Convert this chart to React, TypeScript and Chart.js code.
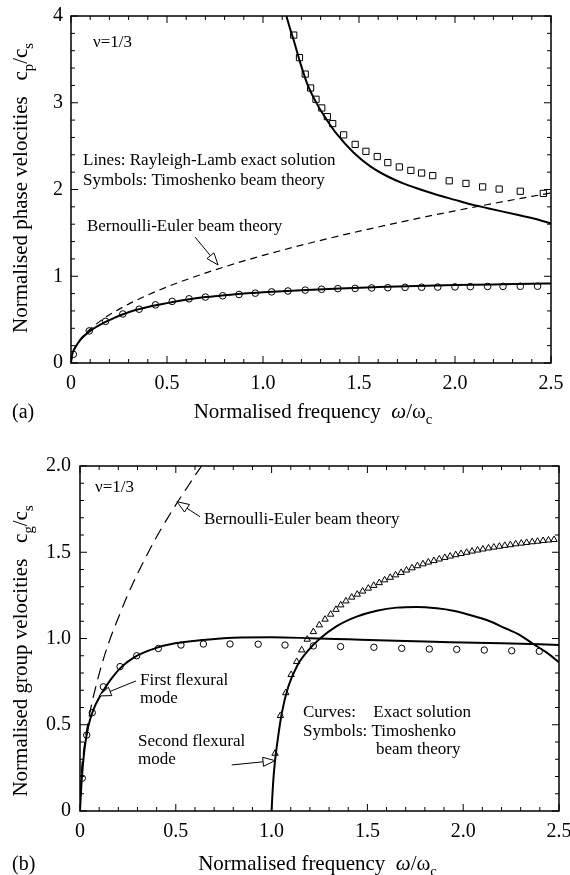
import React, { useEffect, useRef } from "react";
import { Chart, registerables } from "chart.js";

Chart.register(...registerables);

const SERIF = "'Liberation Serif', 'Times New Roman', Times, serif";

// ---------- (a) phase velocities ----------
const freqTickLabels = ["0", "0.5", "1.0", "1.5", "2.0", "2.5"];
const phaseTickLabels = ["0", "1", "2", "3", "4"];

// exact solution, first flexural mode
const phaseMode1X = [0, 0.005, 0.02, 0.05, 0.1, 0.2, 0.3, 0.4, 0.5, 0.6, 0.7, 0.8, 0.9, 1.0, 1.2, 1.4, 1.6, 1.8, 2.0, 2.2, 2.4, 2.5];
const phaseMode1Y = [0, 0.09, 0.17, 0.27, 0.37, 0.495, 0.585, 0.645, 0.69, 0.73, 0.76, 0.78, 0.8, 0.815, 0.84, 0.86, 0.875, 0.888, 0.898, 0.906, 0.913, 0.917];

// exact solution, second flexural mode
const phaseMode2X = [1.122, 1.14, 1.16, 1.19, 1.23, 1.28, 1.33, 1.384, 1.47, 1.557, 1.65, 1.73, 1.82, 1.905, 2.0, 2.08, 2.17, 2.25, 2.33, 2.41, 2.5];
const phaseMode2Y = [4.0, 3.86, 3.72, 3.49, 3.22, 2.99, 2.81, 2.64, 2.43, 2.27, 2.15, 2.07, 2.0, 1.94, 1.88, 1.83, 1.785, 1.745, 1.705, 1.665, 1.61];

// Bernoulli-Euler beam
const phaseEulerX = [0, 0.01, 0.03, 0.06, 0.1, 0.15, 0.2, 0.3, 0.4, 0.5, 0.6, 0.8, 1.0, 1.2, 1.4, 1.6, 1.8, 2.0, 2.2, 2.4, 2.5];
const phaseEulerY = [0, 0.124, 0.215, 0.304, 0.392, 0.48, 0.555, 0.679, 0.784, 0.877, 0.96, 1.109, 1.24, 1.358, 1.467, 1.568, 1.664, 1.754, 1.839, 1.921, 1.96];

// Timoshenko beam, first mode (circles)
const phaseTimo1X = [0.012, 0.095, 0.18, 0.27, 0.355, 0.44, 0.527, 0.615, 0.7, 0.79, 0.875, 0.96, 1.045, 1.13, 1.22, 1.305, 1.39, 1.48, 1.566, 1.65, 1.74, 1.826, 1.91, 2.0, 2.08, 2.17, 2.25, 2.34, 2.43];
const phaseTimo1Y = [0.1, 0.37, 0.48, 0.565, 0.62, 0.67, 0.71, 0.74, 0.76, 0.775, 0.79, 0.805, 0.82, 0.83, 0.84, 0.85, 0.857, 0.86, 0.865, 0.868, 0.872, 0.873, 0.875, 0.877, 0.88, 0.882, 0.883, 0.884, 0.885];

// Timoshenko beam, second mode (squares)
const phaseTimo2X = [1.16, 1.19, 1.22, 1.248, 1.276, 1.306, 1.335, 1.363, 1.42, 1.48, 1.536, 1.595, 1.65, 1.71, 1.77, 1.826, 1.884, 1.97, 2.057, 2.144, 2.23, 2.34, 2.46];
const phaseTimo2Y = [3.78, 3.52, 3.33, 3.17, 3.04, 2.94, 2.84, 2.76, 2.63, 2.52, 2.44, 2.38, 2.31, 2.26, 2.22, 2.19, 2.16, 2.1, 2.07, 2.03, 2.005, 1.98, 1.955];

// ---------- (b) group velocities ----------
const groupTickLabels = ["0", "0.5", "1.0", "1.5", "2.0"];

const groupMode1X = [0, 0.009, 0.023, 0.043, 0.069, 0.113, 0.165, 0.218, 0.287, 0.391, 0.496, 0.635, 0.8, 1.0, 1.2, 1.4, 1.6, 1.8, 2.0, 2.2, 2.4, 2.5];
const groupMode1Y = [0, 0.18, 0.354, 0.489, 0.585, 0.682, 0.769, 0.837, 0.894, 0.943, 0.972, 0.991, 1.005, 1.007, 1.002, 0.995, 0.988, 0.982, 0.977, 0.972, 0.966, 0.962];

const groupMode2X = [1.0, 1.004, 1.009, 1.017, 1.027, 1.053, 1.087, 1.135, 1.19, 1.253, 1.34, 1.444, 1.549, 1.653, 1.757, 1.862, 1.948, 2.035, 2.123, 2.209, 2.296, 2.366, 2.436, 2.5];
const groupMode2Y = [0, 0.09, 0.18, 0.28, 0.373, 0.566, 0.72, 0.845, 0.93, 1.0, 1.072, 1.127, 1.161, 1.179, 1.183, 1.175, 1.161, 1.136, 1.107, 1.065, 1.02, 0.968, 0.918, 0.862];

const groupEulerX = [0, 0.005, 0.02, 0.05, 0.1, 0.15, 0.2, 0.25, 0.3, 0.35, 0.4, 0.45, 0.5, 0.55, 0.6, 0.635];
const groupEulerY = [0, 0.178, 0.355, 0.56, 0.795, 0.975, 1.12, 1.255, 1.375, 1.485, 1.59, 1.685, 1.775, 1.86, 1.945, 2.0];

const groupTimo1X = [0.012, 0.035, 0.064, 0.122, 0.209, 0.296, 0.409, 0.527, 0.644, 0.783, 0.93, 1.07, 1.218, 1.36, 1.534, 1.679, 1.823, 1.966, 2.11, 2.253, 2.397];
const groupTimo1Y = [0.19, 0.44, 0.57, 0.72, 0.837, 0.9, 0.942, 0.962, 0.968, 0.968, 0.967, 0.962, 0.957, 0.953, 0.949, 0.943, 0.939, 0.937, 0.933, 0.929, 0.926];

const groupTimo2X = [1.018, 1.046, 1.074, 1.102, 1.131, 1.157, 1.186, 1.218, 1.249, 1.279, 1.308, 1.336, 1.361, 1.388, 1.418, 1.447, 1.475, 1.505, 1.533, 1.562, 1.59, 1.619, 1.647, 1.676, 1.704, 1.733, 1.761, 1.79, 1.818, 1.847, 1.875, 1.904, 1.932, 1.961, 1.989, 2.018, 2.046, 2.075, 2.103, 2.132, 2.16, 2.189, 2.217, 2.246, 2.274, 2.303, 2.331, 2.36, 2.388, 2.417, 2.445, 2.474];
const groupTimo2Y = [0.334, 0.553, 0.685, 0.79, 0.866, 0.933, 0.995, 1.039, 1.078, 1.111, 1.14, 1.168, 1.194, 1.217, 1.239, 1.256, 1.274, 1.291, 1.307, 1.323, 1.339, 1.354, 1.368, 1.382, 1.396, 1.409, 1.421, 1.432, 1.442, 1.451, 1.46, 1.469, 1.477, 1.485, 1.492, 1.499, 1.506, 1.512, 1.518, 1.524, 1.529, 1.534, 1.539, 1.543, 1.548, 1.552, 1.556, 1.56, 1.563, 1.567, 1.57, 1.573];

// ---------- helpers ----------
type Pt = { x: number; y: number };
const zip = (xs: number[], ys: number[]): Pt[] => xs.map((x, i) => ({ x, y: ys[i] }));

const curve = (data: Pt[], dash: number[] = [], width = 2) => ({
  data,
  showLine: true,
  borderColor: "#000",
  borderWidth: width,
  borderDash: dash,
  pointRadius: 0,
  pointHoverRadius: 0,
  cubicInterpolationMode: "monotone",
  fill: false,
});

const symbols = (data: Pt[], style: string, radius: number) => ({
  data,
  showLine: false,
  pointStyle: style,
  pointRadius: radius,
  pointHoverRadius: radius,
  pointBorderColor: "#000",
  pointBackgroundColor: "rgba(0,0,0,0)",
  pointBorderWidth: 1,
});

type Run = { t: string; sub?: boolean; it?: boolean };
type Note = { x: number; y: number; text: string };
type Arrow = { from: [number, number]; to: [number, number] };

interface Decor {
  xMinor: number;
  xCount: number;
  xEvery: number;
  yMinor: number;
  yCount: number;
  yEvery: number;
  notes: Note[];
  arrows: Arrow[];
  yTitle: Run[];
  yTitleX: number;
  yTitleMid: number;
  xTitle: Run[];
  xTitleMid: number;
  xTitleY: number;
  panel: string;
}

const TITLE_SIZE = 21;
const NOTE_SIZE = 17;

function runFont(r: Run, size: number) {
  const s = r.sub ? size * 0.7 : size;
  return `${r.it ? "italic " : ""}${s}px ${SERIF}`;
}

function drawRuns(ctx: CanvasRenderingContext2D, runs: Run[], cx: number, y: number, size: number) {
  let total = 0;
  const widths = runs.map((r) => {
    ctx.font = runFont(r, size);
    const w = ctx.measureText(r.t).width;
    total += w;
    return w;
  });
  let x = cx - total / 2;
  runs.forEach((r, i) => {
    ctx.font = runFont(r, size);
    ctx.fillText(r.t, x, y + (r.sub ? size * 0.28 : 0));
    x += widths[i];
  });
}

function drawArrow(ctx: CanvasRenderingContext2D, x0: number, y0: number, x1: number, y1: number) {
  const ang = Math.atan2(y1 - y0, x1 - x0);
  const L = 12;
  const W = 4.5;
  const bx = x1 - L * Math.cos(ang);
  const by = y1 - L * Math.sin(ang);
  ctx.beginPath();
  ctx.moveTo(x0, y0);
  ctx.lineTo(bx, by);
  ctx.stroke();
  ctx.beginPath();
  ctx.moveTo(x1, y1);
  ctx.lineTo(bx + W * Math.sin(ang), by - W * Math.cos(ang));
  ctx.lineTo(bx - W * Math.sin(ang), by + W * Math.cos(ang));
  ctx.closePath();
  ctx.fillStyle = "#fff";
  ctx.fill();
  ctx.stroke();
}

function decorPlugin(cfg: Decor) {
  return {
    id: "decor",
    afterDraw(chart: any) {
      const { ctx, chartArea: a } = chart;
      const xs = chart.scales.x;
      const ys = chart.scales.y;
      ctx.save();
      ctx.strokeStyle = "#000";
      ctx.fillStyle = "#000";

      // inward ticks on all four sides
      ctx.lineWidth = 1;
      ctx.beginPath();
      for (let i = 0; i <= cfg.xCount; i++) {
        const px = xs.getPixelForValue(i * cfg.xMinor);
        const len = i % cfg.xEvery === 0 ? 7 : 4;
        ctx.moveTo(px, a.bottom);
        ctx.lineTo(px, a.bottom - len);
        ctx.moveTo(px, a.top);
        ctx.lineTo(px, a.top + len);
      }
      for (let i = 0; i <= cfg.yCount; i++) {
        const py = ys.getPixelForValue(i * cfg.yMinor);
        const len = i % cfg.yEvery === 0 ? 7 : 4;
        ctx.moveTo(a.left, py);
        ctx.lineTo(a.left + len, py);
        ctx.moveTo(a.right, py);
        ctx.lineTo(a.right - len, py);
      }
      ctx.stroke();

      ctx.lineWidth = 1.5;
      ctx.strokeRect(a.left, a.top, a.right - a.left, a.bottom - a.top);

      // arrows
      ctx.lineWidth = 1;
      cfg.arrows.forEach((ar) => {
        drawArrow(
          ctx,
          xs.getPixelForValue(ar.from[0]),
          ys.getPixelForValue(ar.from[1]),
          xs.getPixelForValue(ar.to[0]),
          ys.getPixelForValue(ar.to[1])
        );
      });

      // notes inside the plot
      ctx.fillStyle = "#000";
      ctx.textAlign = "left";
      ctx.textBaseline = "alphabetic";
      ctx.font = `${NOTE_SIZE}px ${SERIF}`;
      cfg.notes.forEach((n) => {
        ctx.fillText(n.text, xs.getPixelForValue(n.x), ys.getPixelForValue(n.y));
      });

      // axis titles
      drawRuns(ctx, cfg.xTitle, cfg.xTitleMid, cfg.xTitleY, TITLE_SIZE);
      ctx.font = `20px ${SERIF}`;
      ctx.fillText(cfg.panel, 12, cfg.xTitleY);

      ctx.save();
      ctx.translate(cfg.yTitleX, cfg.yTitleMid);
      ctx.rotate(-Math.PI / 2);
      drawRuns(ctx, cfg.yTitle, 0, 0, TITLE_SIZE);
      ctx.restore();

      ctx.restore();
    },
  };
}

function chartOptions(yLabels: string[], yMax: number, yStep: number, padding: any, yWidth: number, yPad: number) {
  return {
    responsive: false,
    animation: false,
    events: [],
    layout: { padding },
    plugins: { legend: { display: false }, tooltip: { enabled: false } },
    scales: {
      x: {
        type: "linear",
        min: 0,
        max: 2.5,
        afterFit: (s: any) => {
          s.height = 30;
          s.paddingLeft = 0;
          s.paddingRight = 0;
        },
        ticks: {
          stepSize: 0.5,
          autoSkip: false,
          maxRotation: 0,
          padding: 9,
          color: "#000",
          font: { family: SERIF, size: 20 },
          callback: (v: number) => freqTickLabels[Math.round(v / 0.5)] ?? "",
        },
        grid: { display: false, drawTicks: false },
        border: { display: false },
      },
      y: {
        type: "linear",
        min: 0,
        max: yMax,
        afterFit: (s: any) => {
          s.width = yWidth;
          s.paddingTop = 0;
          s.paddingBottom = 0;
        },
        ticks: {
          stepSize: yStep,
          autoSkip: false,
          padding: yPad,
          color: "#000",
          font: { family: SERIF, size: 20 },
          callback: (v: number) => yLabels[Math.round(v / yStep)] ?? "",
        },
        grid: { display: false, drawTicks: false },
        border: { display: false },
      },
    },
  };
}

const freqTitle: Run[] = [
  { t: "Normalised frequency  " },
  { t: "\u03c9", it: true },
  { t: "/" },
  { t: "\u03c9" },
  { t: "c", sub: true },
];

const phaseDecor: Decor = {
  xMinor: 0.1,
  xCount: 25,
  xEvery: 5,
  yMinor: 0.2,
  yCount: 20,
  yEvery: 5,
  notes: [
    { x: 0.115, y: 3.646, text: "\u03bd=1/3" },
    { x: 0.0625, y: 2.282, text: "Lines: Rayleigh-Lamb exact solution" },
    { x: 0.0625, y: 2.052, text: "Symbols: Timoshenko beam theory" },
    { x: 0.083, y: 1.525, text: "Bernoulli-Euler beam theory" },
  ],
  arrows: [{ from: [0.646, 1.452], to: [0.766, 1.13] }],
  yTitle: [
    { t: "Normalised phase velocities   c" },
    { t: "p", sub: true },
    { t: "/c" },
    { t: "s", sub: true },
  ],
  yTitleX: 27,
  yTitleMid: 188,
  xTitle: freqTitle,
  xTitleMid: 313,
  xTitleY: 418,
  panel: "(a)",
};

const groupDecor: Decor = {
  xMinor: 0.1,
  xCount: 25,
  xEvery: 5,
  yMinor: 0.1,
  yCount: 20,
  yEvery: 5,
  notes: [
    { x: 0.078, y: 1.852, text: "\u03bd=1/3" },
    { x: 0.647, y: 1.664, text: "Bernoulli-Euler beam theory" },
    { x: 0.313, y: 0.73, text: "First flexural" },
    { x: 0.313, y: 0.628, text: "mode" },
    { x: 0.303, y: 0.377, text: "Second flexural" },
    { x: 0.303, y: 0.272, text: "mode" },
    { x: 1.164, y: 0.547, text: "Curves:" },
    { x: 1.531, y: 0.547, text: "Exact solution" },
    { x: 1.164, y: 0.437, text: "Symbols: Timoshenko" },
    { x: 1.545, y: 0.329, text: "beam theory" },
  ],
  arrows: [
    { from: [0.626, 1.706], to: [0.506, 1.793] },
    { from: [0.292, 0.754], to: [0.099, 0.667] },
    { from: [0.792, 0.267], to: [1.018, 0.292] },
  ],
  yTitle: [
    { t: "Normalised group velocities   c" },
    { t: "g", sub: true },
    { t: "/c" },
    { t: "s", sub: true },
  ],
  yTitleX: 27,
  yTitleMid: 214,
  xTitle: freqTitle,
  xTitleMid: 317.5,
  xTitleY: 433,
  panel: "(b)",
};

export default function App() {
  const refA = useRef<HTMLCanvasElement>(null);
  const refB = useRef<HTMLCanvasElement>(null);

  useEffect(() => {
    const phase = new Chart(refA.current as HTMLCanvasElement, {
      type: "scatter",
      data: {
        datasets: [
          curve(zip(phaseEulerX, phaseEulerY), [7, 5], 1.2),
          curve(zip(phaseMode1X, phaseMode1Y)),
          curve(zip(phaseMode2X, phaseMode2Y)),
          symbols(zip(phaseTimo1X, phaseTimo1Y), "circle", 3.3),
          symbols(zip(phaseTimo2X, phaseTimo2Y), "rect", 4.4),
        ] as any,
      },
      options: chartOptions(phaseTickLabels, 4, 1, { left: 0, top: 16, right: 19, bottom: 44 }, 71, 8) as any,
      plugins: [decorPlugin(phaseDecor)],
    });

    const group = new Chart(refB.current as HTMLCanvasElement, {
      type: "scatter",
      data: {
        datasets: [
          curve(zip(groupEulerX, groupEulerY), [12, 7], 1.2),
          curve(zip(groupMode1X, groupMode1Y)),
          curve(zip(groupMode2X, groupMode2Y)),
          symbols(zip(groupTimo1X, groupTimo1Y), "circle", 3.2),
          symbols(zip(groupTimo2X, groupTimo2Y), "triangle", 3.7),
        ] as any,
      },
      options: chartOptions(groupTickLabels, 2, 0.5, { left: 0, top: 29, right: 11, bottom: 34 }, 80, 9) as any,
      plugins: [decorPlugin(groupDecor)],
    });

    return () => {
      phase.destroy();
      group.destroy();
    };
  }, []);

  return (
    <div style={{ position: "absolute", left: 0, top: 0, width: 570, height: 875, background: "#fff" }}>
      <canvas ref={refA} width={570} height={437} style={{ position: "absolute", left: 0, top: 0 }} />
      <canvas ref={refB} width={570} height={438} style={{ position: "absolute", left: 0, top: 437 }} />
    </div>
  );
}
